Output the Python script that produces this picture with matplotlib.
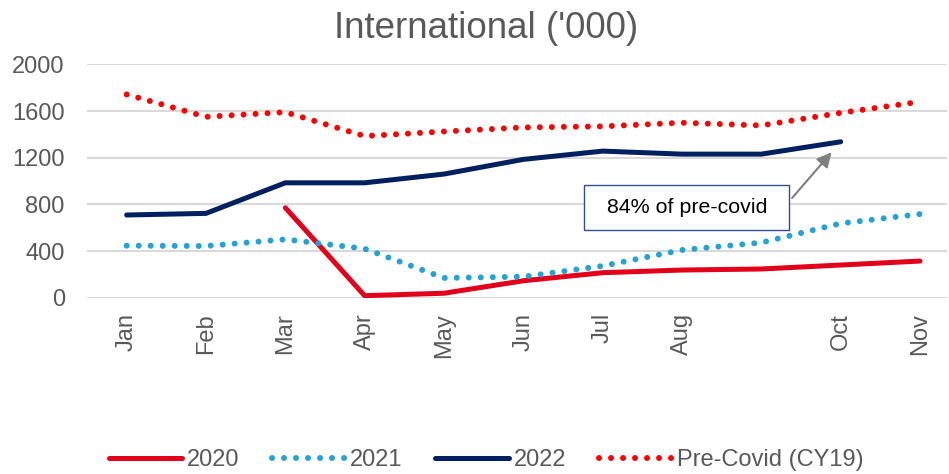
import numpy as np
import matplotlib
matplotlib.use('Agg')
import matplotlib.pyplot as plt
from matplotlib.patches import Rectangle

plt.rcParams['font.family'] = ['Liberation Sans', 'DejaVu Sans']

# values ('000 passengers)
months = ['Jan', 'Feb', 'Mar', 'Apr', 'May', 'Jun', 'Jul', 'Aug', '', 'Oct', 'Nov']
y2020 = [np.nan, np.nan, 771, 17, 38, 145, 214, 237, 246, 280, 314]
y2021 = [446, 443, 500, 420, 169, 180, 272, 409, 472, 637, 717]
y2022 = [709, 723, 985, 985, 1060, 1186, 1257, 1231, 1231, 1337, np.nan]
precovid = [1743, 1551, 1591, 1386, 1425, 1460, 1469, 1500, 1477, 1585, 1680]
note = '84% of pre-covid'

grey = '#595959'
x = np.arange(len(months))

fig = plt.figure(figsize=(9.49, 4.74), dpi=100)
ax = fig.add_axes([87 / 949, 0.372, (947 - 87) / 949, 0.492])

dots = (0, (0.01, 2.0))
ax.plot(x, y2020, color='#E2001A', lw=3.6, solid_capstyle='round', label='2020', zorder=3)
ax.plot(x, y2021, color='#22A2D6', lw=4.3, ls=dots, dash_capstyle='round', label='2021', zorder=3)
ax.plot(x, y2022, color='#002060', lw=3.6, solid_capstyle='round', label='2022', zorder=3)
ax.plot(x, precovid, color='#FF0000', lw=4.3, ls=dots, dash_capstyle='round', label='Pre-Covid (CY19)', zorder=3)

ax.set_xlim(-0.5, 10.34)
ax.set_ylim(0, 2000)
ax.set_yticks(range(0, 2001, 400))
ax.set_xticks(x)
ax.set_xticklabels(months, rotation=90, va='top', ha='center')
ax.tick_params(axis='both', length=0, labelsize=17, labelcolor=grey)
ax.tick_params(axis='x', pad=11)
ax.tick_params(axis='y', pad=16)
ax.grid(axis='y', color='#D9D9D9', lw=1.5)
ax.set_axisbelow(True)
for s in ax.spines.values():
    s.set_visible(False)

fig.text(486 / 949, 1 - 28 / 474, "International ('000)", fontsize=26.5, color=grey,
         ha='center', va='center')

# callout box + arrow to the Oct 2022 point
ax.add_patch(Rectangle((5.77, 578), 2.58, 390, fill=True, facecolor='white',
                       edgecolor='#2F4F8F', lw=1.0, zorder=4))
ax.text(7.06, 773, note, fontsize=15.4, color='black', ha='center', va='center', zorder=5)
ax.annotate('', xy=(9, y2022[9]), xytext=(-35, -40.5), textcoords='offset points',
            arrowprops=dict(arrowstyle='-|>', color='#7F7F7F', lw=1.5, mutation_scale=22,
                            shrinkA=0, shrinkB=10), zorder=5)

fig.legend(loc='center', bbox_to_anchor=(486 / 949, 14 / 474), ncol=4, frameon=False,
           fontsize=17, labelcolor=grey, handlelength=3.1, handletextpad=0.2,
           columnspacing=1.4)

fig.savefig('out.png', dpi=100)
